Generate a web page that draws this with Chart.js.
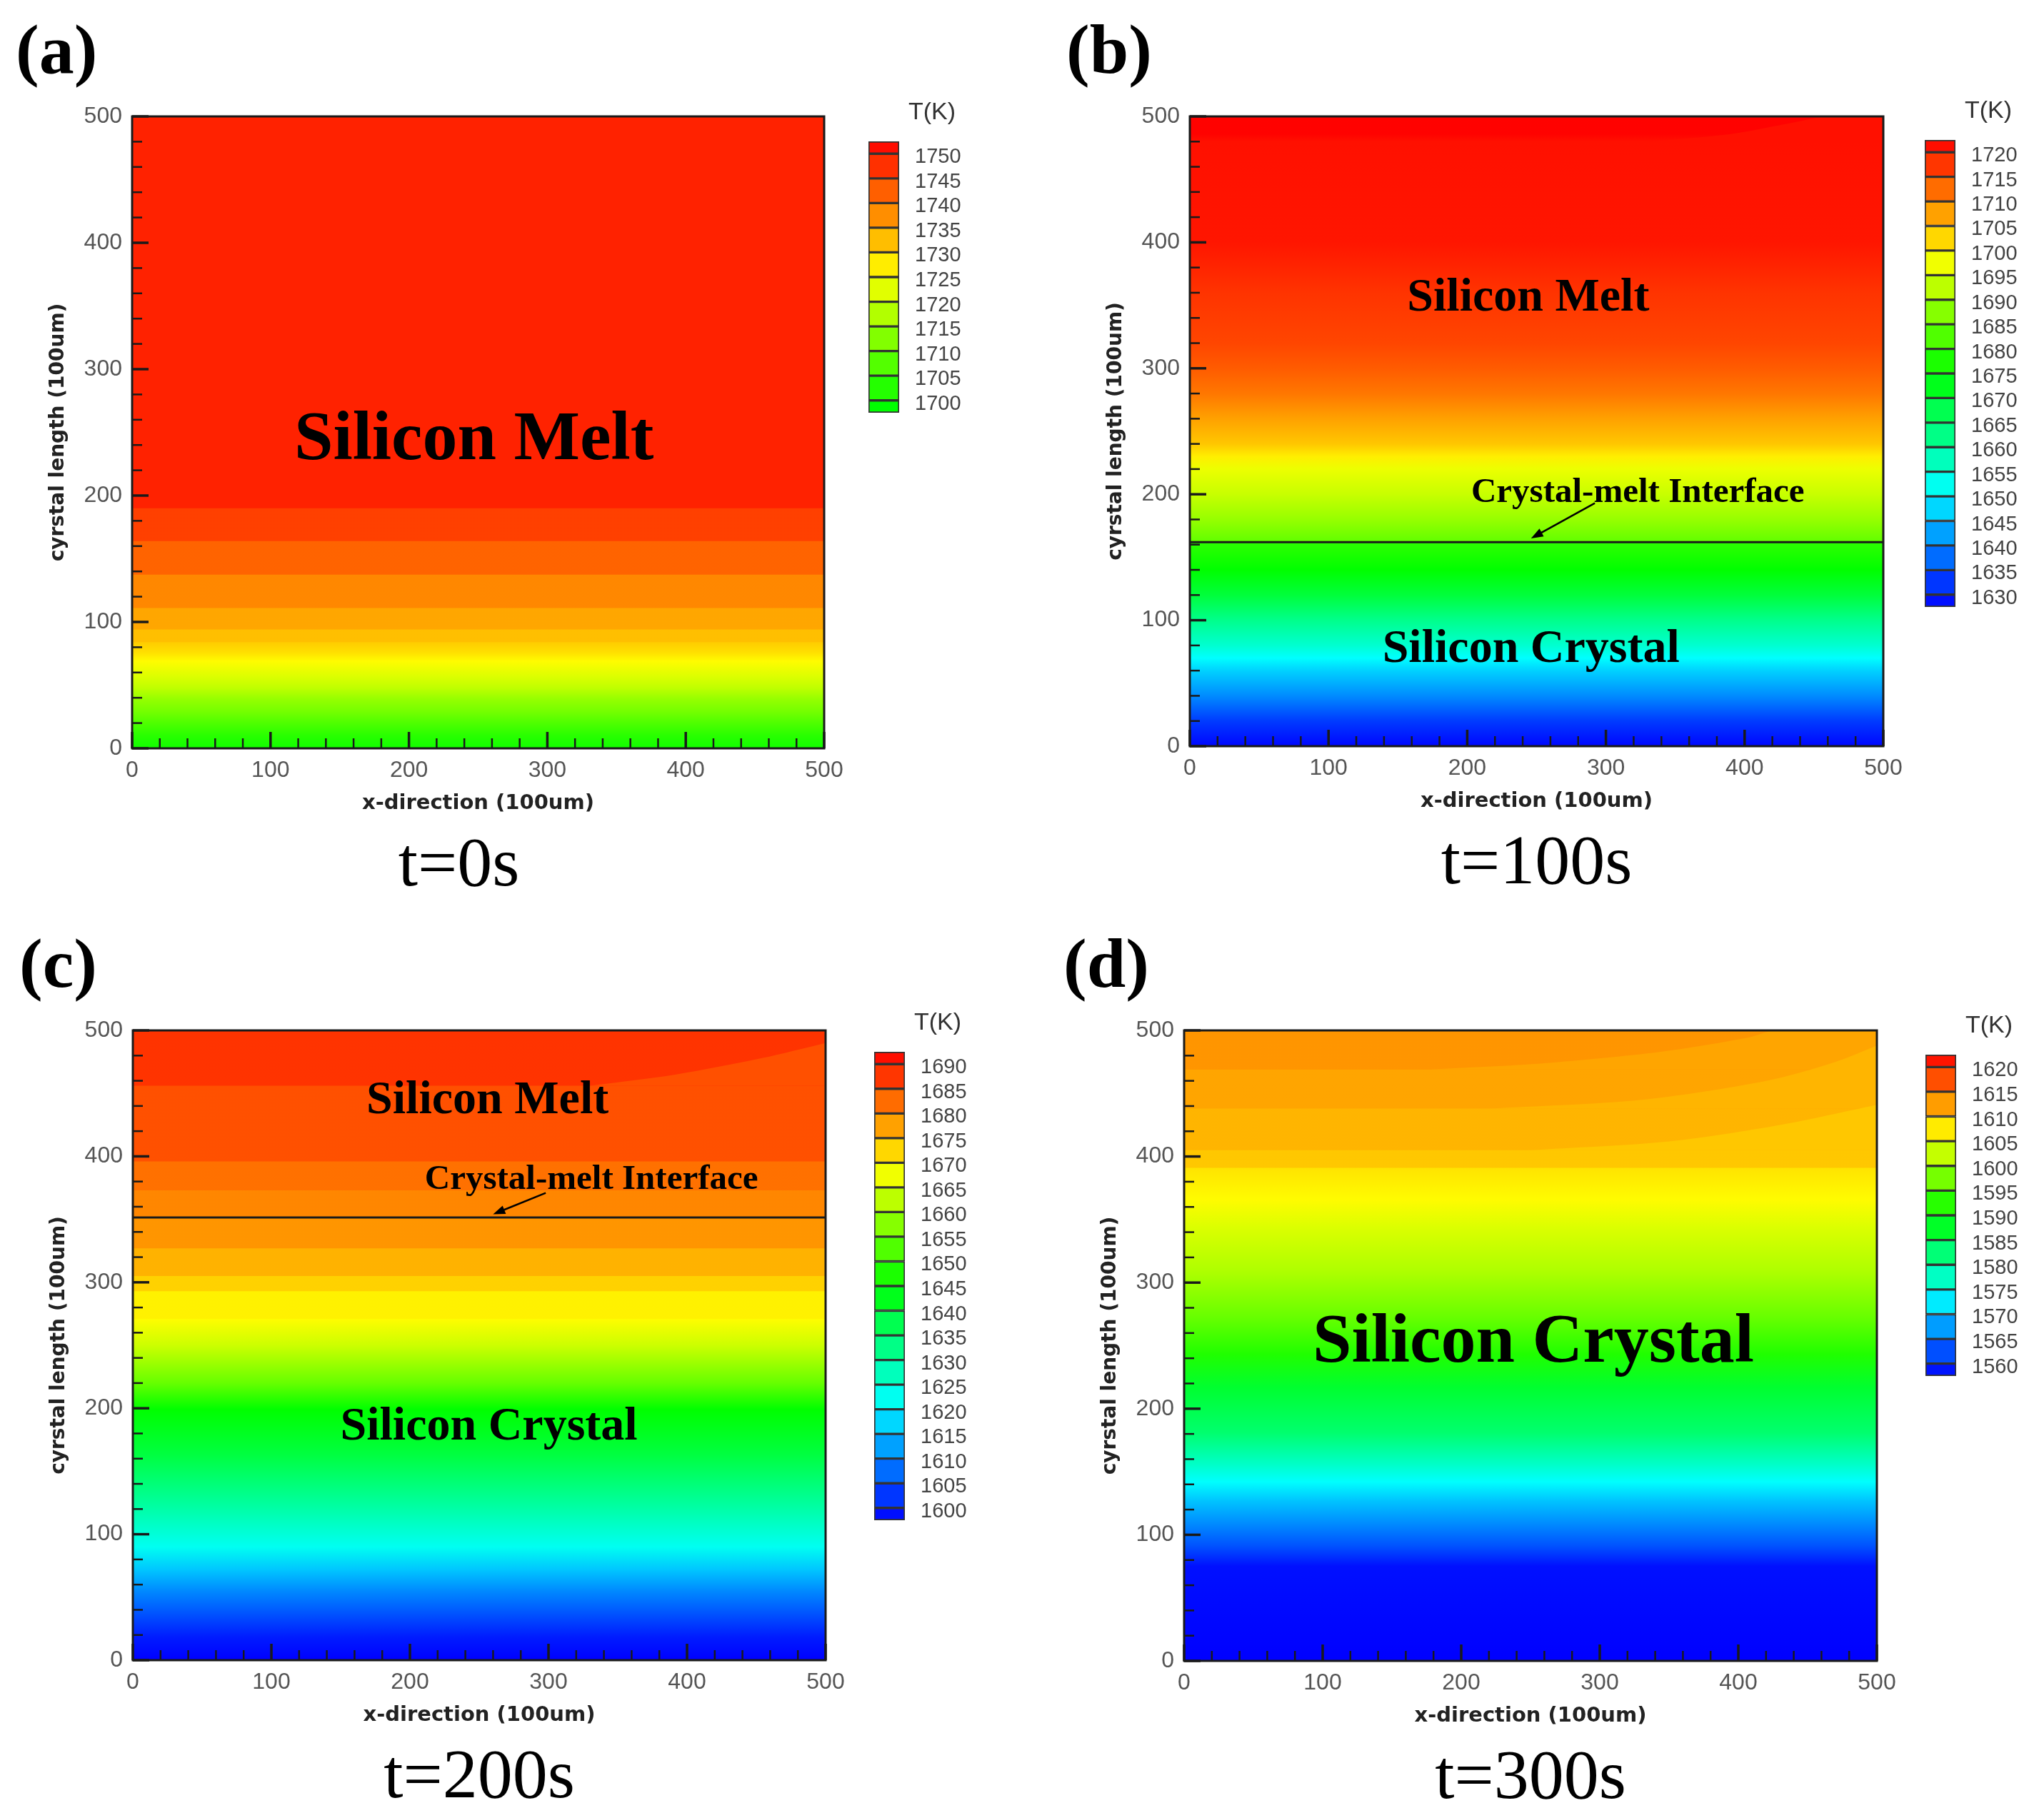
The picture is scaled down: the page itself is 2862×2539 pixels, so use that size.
<!DOCTYPE html>
<html>
<head>
<meta charset="utf-8">
<script src="https://cdn.jsdelivr.net/npm/chart.js@4.4.1/dist/chart.umd.min.js"></script>
<style>
html, body { margin: 0; padding: 0; background: #fff; }
#page { position: relative; width: 2862px; height: 2539px; background: #fff; overflow: hidden; }
canvas { position: absolute; }
</style>
</head>
<body>
<div id="page"></div>
<script>
// axis ticks shared by all four panels
const axisTicks = [0, 100, 200, 300, 400, 500];
const minorTicks = [20, 40, 60, 80, 120, 140, 160, 180, 220, 240, 260, 280, 320, 340, 360, 380, 420, 440, 460, 480];

// (a) t=0s : temperature read at heights along the crystal
const aLevels = [1700, 1705, 1710, 1715, 1720, 1725, 1730, 1735, 1740, 1745, 1750];
const aHeights = [0, 10, 20, 29, 39, 48, 57, 69, 76, 84, 84, 94, 94, 111, 111, 137.5, 137.5, 164, 164, 190, 190, 500];
const aTemps = [1700.5, 1703, 1707, 1711, 1714.5, 1719, 1722, 1726, 1729, 1731, 1732.4, 1732.4, 1735, 1735, 1738.2, 1738.2, 1742, 1742, 1745.8, 1745.8, 1748.9, 1748.9];

// (b) t=100s
const bLevels = [1630, 1635, 1640, 1645, 1650, 1655, 1660, 1665, 1670, 1675, 1680, 1685, 1690, 1695, 1700, 1705, 1710, 1715, 1720];
const bHeights = [0, 20, 40, 60, 70, 80, 100, 120, 140, 155, 162, 162, 180, 200, 220, 230, 240, 260, 280, 300, 320, 360, 400, 480, 486, 500];
const bTemps = [1628, 1633, 1640.5, 1647, 1651.3, 1655.6, 1662, 1669.5, 1675, 1678, 1679, 1684, 1689, 1693.6, 1697, 1700.3, 1704, 1707.5, 1711.4, 1714, 1716, 1717.7, 1720.5, 1721, 1722.3, 1722.3];
const bInterface = 162;
const bCornerX = [330, 390, 430, 460, 500];
const bCornerY = [480, 486, 494, 500, 500];

// (c) t=200s
const cLevels = [1600, 1605, 1610, 1615, 1620, 1625, 1630, 1635, 1640, 1645, 1650, 1655, 1660, 1665, 1670, 1675, 1680, 1685, 1690];
const cHeights = [0, 18, 36, 54, 72, 90, 127, 163, 199, 220, 250, 271, 271, 293, 293, 305, 305, 327, 327, 352, 352, 373, 373, 396, 396, 456, 456, 500];
const cTemps = [1597.5, 1600, 1605, 1610, 1616, 1622.5, 1631, 1639, 1645, 1654.5, 1664, 1669, 1670, 1670, 1673, 1673, 1675.9, 1675.9, 1678.6, 1678.6, 1680, 1680, 1682, 1682, 1685, 1685, 1687.7, 1687.7];
const cInterface = 351.5;
const cCornerX = [330, 392, 454, 500];
const cCornerY = [456, 465, 478, 490];

// (d) t=300s
const dLevels = [1560, 1565, 1570, 1575, 1580, 1585, 1590, 1595, 1600, 1605, 1610, 1615, 1620];
const dHeights = [0, 75, 91, 109, 127, 142, 156, 181, 217, 243, 272, 308, 344, 366, 391, 391, 405, 405, 438, 438, 469, 469, 500];
const dTemps = [1557.5, 1558.5, 1562.7, 1566.4, 1570, 1573.8, 1577.3, 1583, 1587, 1592, 1596.5, 1601, 1604, 1606.5, 1608, 1609.8, 1609.8, 1611, 1611, 1612, 1612, 1613, 1613];
const dCorner1X = [178, 260, 344, 406, 427, 500];
const dCorner1Y = [469, 474, 483, 494, 500, 500];
const dCorner2X = [220, 330, 420, 470, 500];
const dCorner2Y = [438, 445, 460, 475, 488];
const dCorner3X = [250, 350, 430, 500];
const dCorner3Y = [405, 412, 425, 441];

const sansFont = '"Liberation Sans", Arial, sans-serif';
const titleFont = '"DejaVu Sans", Verdana, sans-serif';
const serifFont = '"Liberation Serif", "Times New Roman", serif';

// rainbow map used by the contour plots: blue (low) -> red (high)
const tempColor = (t, [lo, hi]) => {
    const f = Math.min(1, Math.max(0, (hi - t) / (hi - lo)));
    return `hsl(${(240 * f).toFixed(1)}, 100%, 50%)`;
};

const corner = (xs, ys, temp) => ({ xs, ys, temp });

const panels = [
    {
        id: 'a', letter: '(a)', caption: 't=0s', plot: [185, 163, 969, 885], bar: [1216, 198, 43, 380],
        letterDx: -163, captionDx: -27,
        heights: aHeights, temps: aTemps, levels: aLevels, cmap: [1645, 1752.5],
        iface: null, arrow: null, corners: [],
        labels: [{ text: 'Silicon Melt', x: 247, y: 229, size: 98 }]
    },
    {
        id: 'b', letter: '(b)', caption: 't=100s', plot: [1666, 163, 971, 882], bar: [2695, 196, 43, 654],
        letterDx: -173, captionDx: 0,
        heights: bHeights, temps: bTemps, levels: bLevels, cmap: [1627.5, 1722.5],
        iface: bInterface, arrow: [292, 193, 246, 165],
        corners: [corner(bCornerX, bCornerY, 1721)],
        labels: [
            { text: 'Silicon Melt', x: 244, y: 346, size: 66 },
            { text: 'Crystal-melt Interface', x: 323, y: 194, size: 49 },
            { text: 'Silicon Crystal', x: 246, y: 67, size: 66 }
        ]
    },
    {
        id: 'c', letter: '(c)', caption: 't=200s', plot: [186, 1443, 970, 882], bar: [1224, 1473, 43, 656],
        letterDx: -159, captionDx: 0,
        heights: cHeights, temps: cTemps, levels: cLevels, cmap: [1597.5, 1692.5],
        iface: cInterface, arrow: [298, 371, 260, 354],
        corners: [corner(cCornerX, cCornerY, 1685)],
        labels: [
            { text: 'Silicon Melt', x: 256, y: 434, size: 66 },
            { text: 'Crystal-melt Interface', x: 331, y: 374, size: 49 },
            { text: 'Silicon Crystal', x: 257, y: 175, size: 66 }
        ]
    },
    {
        id: 'd', letter: '(d)', caption: 't=300s', plot: [1658, 1443, 970, 883], bar: [2696, 1477, 43, 450],
        letterDx: -169, captionDx: 0,
        heights: dHeights, temps: dTemps, levels: dLevels, cmap: [1557.5, 1622.5],
        iface: null, arrow: null,
        corners: [corner(dCorner1X, dCorner1Y, 1612), corner(dCorner2X, dCorner2Y, 1611), corner(dCorner3X, dCorner3Y, 1609.8)],
        labels: [{ text: 'Silicon Crystal', x: 252, y: 237, size: 98 }]
    }
];

const page = document.getElementById('page');
const addCanvas = (left, top, w, h) => {
    const c = document.createElement('canvas');
    c.width = w;
    c.height = h;
    c.style.left = left + 'px';
    c.style.top = top + 'px';
    c.style.width = w + 'px';
    c.style.height = h + 'px';
    page.appendChild(c);
    return c;
};

// each band fills from its upper height down to the axis start; higher bands
// are drawn first so the lower ones cover them (no seams between bands)
const bandSets = p => p.heights.map((h, i) => ({
    data: [{ x: 0, y: h }, { x: 500, y: h }],
    borderColor: 'transparent',
    borderWidth: 0,
    pointRadius: 0,
    fill: i === 0 ? false : 'start',
    order: 1000 + i,
    backgroundColor: ctx => {
        const chart = ctx.chart;
        const flat = tempColor(p.temps[i], p.cmap);
        if (!chart.chartArea || i === 0) return flat;
        const y0 = chart.scales.y.getPixelForValue(p.heights[i - 1]);
        const y1 = chart.scales.y.getPixelForValue(h);
        if (Math.abs(y0 - y1) < 0.5) return flat;
        const g = chart.ctx.createLinearGradient(0, y0, 0, y1);
        g.addColorStop(0, tempColor(p.temps[i - 1], p.cmap));
        g.addColorStop(1, flat);
        return g;
    }
}));

// curved contours near the upper right corner
const cornerSets = p => p.corners.map((c, k) => ({
    data: c.xs.map((x, j) => ({ x, y: c.ys[j] })),
    borderColor: 'transparent',
    borderWidth: 0,
    pointRadius: 0,
    tension: 0.3,
    fill: { value: c.ys[0] },
    backgroundColor: tempColor(c.temp, p.cmap),
    order: 50 - k
}));

const makeDeco = p => ({
    id: 'deco' + p.id,
    afterDatasetsDraw(chart) {
        const { ctx, chartArea: a, scales: { x, y } } = chart;
        ctx.save();

        // frame
        ctx.strokeStyle = '#1a1a1a';
        ctx.lineWidth = 3;
        ctx.strokeRect(a.left, a.top, a.right - a.left, a.bottom - a.top);

        // inward ticks on bottom and left axes
        const ticks = (vals, len, w) => {
            ctx.lineWidth = w;
            vals.forEach(v => {
                const px = x.getPixelForValue(v);
                const py = y.getPixelForValue(v);
                ctx.beginPath();
                ctx.moveTo(px, a.bottom);
                ctx.lineTo(px, a.bottom - len);
                ctx.stroke();
                ctx.beginPath();
                ctx.moveTo(a.left, py);
                ctx.lineTo(a.left + len, py);
                ctx.stroke();
            });
        };
        ticks(axisTicks, 23, 3.5);
        ticks(minorTicks, 14, 2.5);

        // region labels
        ctx.fillStyle = '#000';
        ctx.textAlign = 'center';
        ctx.textBaseline = 'alphabetic';
        p.labels.forEach(l => {
            ctx.font = `bold ${l.size}px ${serifFont}`;
            ctx.fillText(l.text, x.getPixelForValue(l.x), y.getPixelForValue(l.y));
        });

        // arrow pointing at the interface
        if (p.arrow) {
            const [x1, y1, x2, y2] = p.arrow;
            const sx = x.getPixelForValue(x1), sy = y.getPixelForValue(y1);
            const ex = x.getPixelForValue(x2), ey = y.getPixelForValue(y2);
            const ang = Math.atan2(ey - sy, ex - sx);
            ctx.strokeStyle = '#000';
            ctx.lineWidth = 2.5;
            ctx.beginPath();
            ctx.moveTo(sx, sy);
            ctx.lineTo(ex - 8 * Math.cos(ang), ey - 8 * Math.sin(ang));
            ctx.stroke();
            ctx.beginPath();
            ctx.moveTo(ex, ey);
            ctx.lineTo(ex - 18 * Math.cos(ang - 0.35), ey - 18 * Math.sin(ang - 0.35));
            ctx.lineTo(ex - 18 * Math.cos(ang + 0.35), ey - 18 * Math.sin(ang + 0.35));
            ctx.closePath();
            ctx.fill();
        }

        // panel letter and time caption
        ctx.textAlign = 'left';
        ctx.font = `bold 98px ${serifFont}`;
        ctx.fillText(p.letter, a.left + p.letterDx, a.top - 61);
        ctx.textAlign = 'center';
        ctx.font = `98px ${serifFont}`;
        ctx.fillText(p.caption, (a.left + a.right) / 2 + p.captionDx, a.bottom + 192);
        ctx.restore();
    }
});

const fieldChart = p => {
    const [pl, pt, pw, ph] = p.plot;
    const canvas = addCanvas(pl - 185, pt - 163, 185 + pw + 40, 163 + ph + 95 + 130);
    const datasets = [...bandSets(p), ...cornerSets(p)];
    if (p.iface !== null) {
        datasets.push({
            data: [{ x: 0, y: p.iface }, { x: 500, y: p.iface }],
            borderColor: '#1a1a1a',
            borderWidth: 3,
            pointRadius: 0,
            fill: false,
            order: 0
        });
    }
    new Chart(canvas, {
        type: 'line',
        data: { datasets },
        options: {
            responsive: false,
            animation: false,
            devicePixelRatio: 1,
            layout: { padding: { left: 65, top: 163, right: 40, bottom: 130 } },
            plugins: { legend: { display: false }, tooltip: { enabled: false } },
            scales: {
                x: {
                    type: 'linear', min: 0, max: 500,
                    grid: { display: false, drawTicks: false },
                    border: { display: false },
                    afterBuildTicks: s => { s.ticks = axisTicks.map(v => ({ value: v })); },
                    afterFit: s => { s.height = 95; },
                    ticks: {
                        font: { family: sansFont, size: 32 }, color: '#555',
                        padding: 12, maxRotation: 0, autoSkip: false,
                        callback: v => String(v)
                    },
                    title: {
                        display: true, text: 'x-direction (100um)', color: '#222', padding: 0,
                        font: { family: titleFont, size: 29, weight: 'bold' }
                    }
                },
                y: {
                    type: 'linear', min: 0, max: 500,
                    grid: { display: false, drawTicks: false },
                    border: { display: false },
                    afterBuildTicks: s => { s.ticks = axisTicks.map(v => ({ value: v })); },
                    afterFit: s => { s.width = 120; },
                    ticks: {
                        font: { family: sansFont, size: 32 }, color: '#555',
                        padding: 14, autoSkip: false,
                        callback: v => String(v)
                    },
                    title: {
                        display: true, text: 'cyrstal length (100um)', color: '#222', padding: 0,
                        font: { family: titleFont, size: 28, weight: 'bold' }
                    }
                }
            }
        },
        plugins: [makeDeco(p)]
    });
};

const colorbarChart = p => {
    const [bl, bt, bw, bh] = p.bar;
    const canvas = addCanvas(bl - 10, bt - 80, 10 + bw + 110, 80 + bh + 50);
    const step = p.levels[1] - p.levels[0];
    const edges = [p.levels[0] - step / 2, ...p.levels, p.levels[p.levels.length - 1] + step / 2];
    const datasets = edges.slice(1).map((e, k) => ({
        data: [[edges[k], e]],
        backgroundColor: tempColor((edges[k] + e) / 2, p.cmap),
        borderColor: '#333',
        borderWidth: 2,
        borderSkipped: false,
        grouped: false,
        barPercentage: 1,
        categoryPercentage: 1
    }));
    new Chart(canvas, {
        type: 'bar',
        data: { labels: ['T'], datasets },
        options: {
            responsive: false,
            animation: false,
            devicePixelRatio: 1,
            layout: { padding: { left: 10, top: 80, right: 0, bottom: 50 } },
            plugins: { legend: { display: false }, tooltip: { enabled: false } },
            scales: {
                x: { display: false },
                y: {
                    position: 'right',
                    min: edges[0], max: edges[edges.length - 1],
                    grid: { display: false, drawTicks: false },
                    border: { display: false },
                    afterBuildTicks: s => { s.ticks = p.levels.map(v => ({ value: v })); },
                    afterFit: s => { s.width = 110; },
                    ticks: {
                        font: { family: sansFont, size: 29 }, color: '#444',
                        padding: 22, labelOffset: 5, autoSkip: false,
                        callback: v => String(v)
                    }
                }
            }
        },
        plugins: [{
            id: 'cbTitle' + p.id,
            afterDraw(chart) {
                const { ctx, chartArea: a } = chart;
                ctx.save();
                ctx.fillStyle = '#333';
                ctx.font = `34px ${sansFont}`;
                ctx.textAlign = 'center';
                ctx.textBaseline = 'middle';
                ctx.fillText('T(K)', a.left + 89, a.top - 40);
                ctx.restore();
            }
        }]
    });
};

panels.forEach(p => {
    fieldChart(p);
    colorbarChart(p);
});
</script>
</body>
</html>
